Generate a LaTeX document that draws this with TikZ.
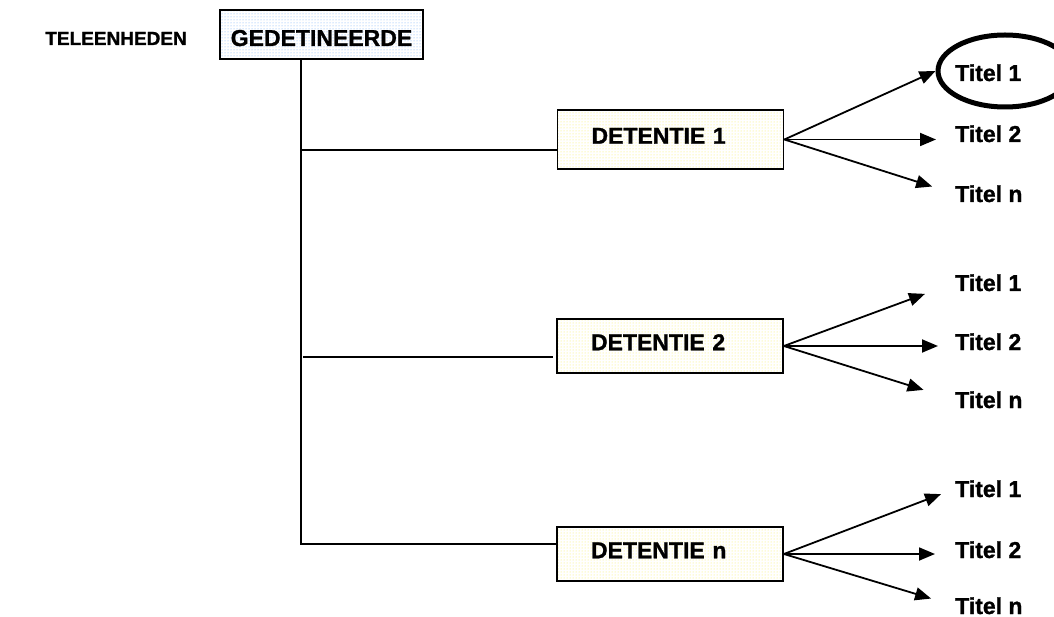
\documentclass[tikz,border=0pt]{standalone}
\usepackage{fontspec}
\setmainfont{Liberation Sans}[BoldFeatures={FakeBold=1.2}]
\usetikzlibrary{arrows.meta,shapes.geometric,patterns}
\definecolor{dotblue}{RGB}{110,170,250}
\definecolor{dotyellow}{RGB}{250,240,90}
\begin{document}
\begin{tikzpicture}[x=1pt,y=-1pt,
  conn/.style={line width=1.8pt, black},
  arr/.style={conn, -{Triangle[length=16pt,width=13pt]}},
  bigtext/.style={font=\fontsize{23}{23}\selectfont\bfseries},
  rootbox/.style={draw, line width=1.8pt, pattern=dots, pattern color=dotblue,
    bigtext, minimum width=203pt, minimum height=49pt, inner sep=0pt,
    text height=23pt, text depth=0pt},
  detbox/.style={draw, line width=1.8pt, pattern=dots, pattern color=dotyellow,
    bigtext, text width=158pt, inner xsep=34pt, inner ysep=0pt, align=left,
    minimum height=54pt, text height=16.5pt, text depth=8pt},
  title/.style={bigtext, anchor=base west, inner sep=0pt},
  ringstyle/.style={ellipse, draw, line width=5pt, minimum width=134pt,
    minimum height=72pt, inner sep=0pt}
]
\useasboundingbox (0,0) rectangle (1054,617);
\fill[white] (0,0) rectangle (1054,617);

% header label and root box
\node[font=\fontsize{19}{19}\selectfont\bfseries, anchor=base east, inner sep=0pt]
  (unit) at (187,45) {TELEENHEDEN};
\node[rootbox] (ged) at (321.5,34.5) {GEDETINEERDE};

% detention boxes
\node[detbox, minimum height=59pt] (d1) at (670.5,139.5) {DETENTIE 1};
\node[detbox] (d2) at (670,346) {DETENTIE 2};
\node[detbox] (dn) at (670,554) {DETENTIE n};

% tree connectors
\coordinate (cn) at (301,544);
\coordinate (c1) at (301,150);
\coordinate (c2a) at (303,357);
\coordinate (c2b) at (553,357);
\draw[conn] (ged.south -| cn) -- (cn) -- (cn -| dn.west);
\draw[conn] (c1) -- (c1 -| d1.west);
\draw[conn] (c2a) -- (c2b);

% titles
\node[title] (t11) at (955,81) {Titel 1};
\node[title] (t12) at (955,142) {Titel 2};
\node[title] (t1n) at (955,202) {Titel n};
\node[title] (t21) at (955,291) {Titel 1};
\node[title] (t22) at (955,350) {Titel 2};
\node[title] (t2n) at (955,408) {Titel n};
\node[title] (t31) at (955,497) {Titel 1};
\node[title] (t32) at (955,558) {Titel 2};
\node[title] (t3n) at (955,614) {Titel n};

% highlight round the first title
\node[ringstyle] (ring) at (1005,71) {};

% arrows to the titles
\draw[arr] (d1.east) -- (ring.west);
\draw[arr, shorten >=19pt] (d1.east) -- (d1.east -| t12.west);
\draw[arr, shorten >=24pt] (d1.east) -- (t1n.west);

\draw[arr, shorten >=32pt] (d2.east) -- (t21.west);
\draw[arr, shorten >=17pt] (d2.east) -- (d2.east -| t22.west);
\draw[arr, shorten >=33pt] (d2.east) -- (t2n.west);

\draw[arr, shorten >=15pt] (dn.east) -- (t31.west);
\draw[arr, shorten >=20pt] (dn.east) -- (dn.east -| t32.west);
\draw[arr, shorten >=25pt] (dn.east) -- (t3n.west);
\end{tikzpicture}
\end{document}
